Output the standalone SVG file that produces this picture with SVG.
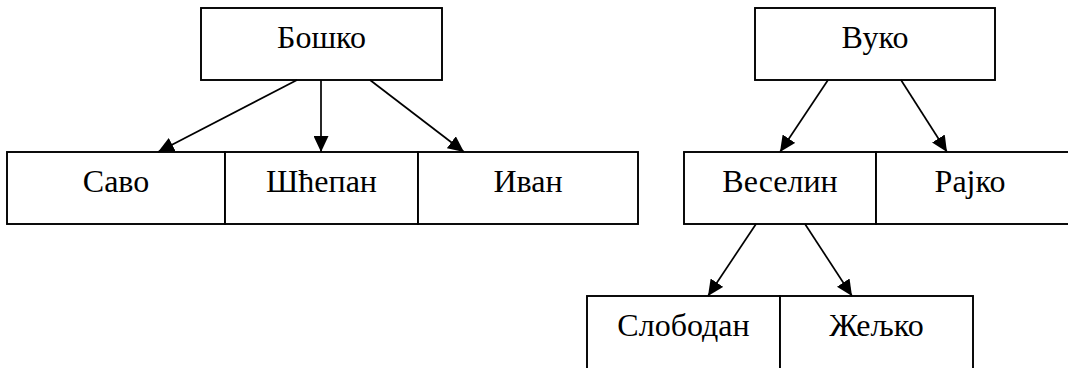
<svg xmlns="http://www.w3.org/2000/svg" width="1068" height="368" viewBox="0 0 1068 368">
<style>
.box{fill:#fff;stroke:#000;stroke-width:1.9}
text{font-family:'Liberation Serif','DejaVu Serif',serif;font-size:32px;fill:#000;text-anchor:middle}
.edge{stroke:#000;stroke-width:1.7;fill:none;marker-end:url(#ah)}
</style>
<defs>
<marker id="ah" viewBox="0 0 16 15" refX="16" refY="7.5" markerWidth="16" markerHeight="15" markerUnits="userSpaceOnUse" orient="auto">
<path d="M0,0 L16,7.5 L0,15 Z" fill="#000"/>
</marker>
</defs>
<rect width="1068" height="368" fill="#fff"/>
<g id="bosko"><rect class="box" x="201" y="8" width="241" height="72"/><text x="321.5" y="48">Бошко</text></g>
<g id="savo"><rect class="box" x="7" y="152" width="218" height="72"/><text x="116" y="192">Саво</text></g>
<g id="sthepan"><rect class="box" x="225" y="152" width="193" height="72"/><text x="321.5" y="192">Шћепан</text></g>
<g id="ivan"><rect class="box" x="418" y="152" width="220" height="72"/><text x="528" y="192">Иван</text></g>
<g id="vuko"><rect class="box" x="755" y="8" width="240" height="72"/><text x="875" y="48">Вуко</text></g>
<g id="veselin"><rect class="box" x="684" y="152" width="192" height="72"/><text x="780" y="192">Веселин</text></g>
<g id="rajko"><rect class="box" x="876" y="152" width="220" height="72"/><text x="970" y="192">Рајко</text></g>
<g id="slobodan"><rect class="box" x="587" y="296" width="193" height="74"/><text x="683.5" y="336">Слободан</text></g>
<g id="zeljko"><rect class="box" x="780" y="296" width="193" height="74"/><text x="876.5" y="336">Жељко</text></g>
<g id="connectors">
<line class="edge" x1="297" y1="80" x2="158" y2="152"/>
<line class="edge" x1="321" y1="80" x2="321" y2="152"/>
<line class="edge" x1="370" y1="80" x2="464" y2="152"/>
<line class="edge" x1="828" y1="80" x2="780" y2="152"/>
<line class="edge" x1="901" y1="80" x2="947" y2="152"/>
<line class="edge" x1="756" y1="224" x2="708" y2="296"/>
<line class="edge" x1="805" y1="224" x2="852" y2="296"/>
</g>
</svg>
